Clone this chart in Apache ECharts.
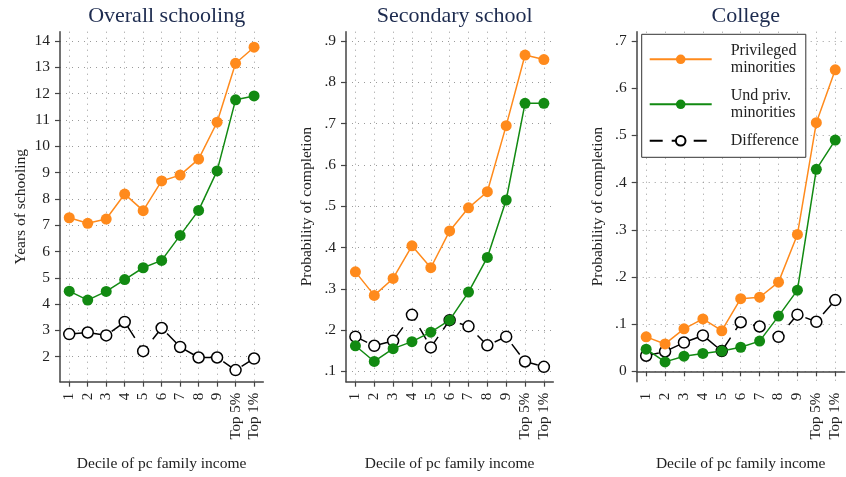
<!DOCTYPE html>
<html><head><meta charset="utf-8">
<script src="https://cdn.jsdelivr.net/npm/echarts@6/dist/echarts.min.js"></script>
<style>html,body{margin:0;padding:0;background:#fff}#c{width:846px;height:477px}</style>
</head><body><div id="c"></div>
<script>
const categories = ['1','2','3','4','5','6','7','8','9','Top 5%','Top 1%'];
const schoolPriv = [7.28,7.07,7.23,8.18,7.55,8.68,8.90,9.51,10.91,13.15,13.76];
const schoolUnd  = [4.49,4.15,4.48,4.93,5.38,5.66,6.61,7.56,9.06,11.76,11.91];
const schoolDiff = [2.86,2.92,2.81,3.32,2.21,3.09,2.37,1.97,1.97,1.49,1.93];
const secPriv = [0.341,0.284,0.325,0.404,0.351,0.440,0.496,0.535,0.695,0.866,0.855];
const secUnd  = [0.162,0.124,0.155,0.172,0.195,0.224,0.292,0.376,0.515,0.749,0.749];
const secDiff = [0.184,0.162,0.174,0.237,0.158,0.224,0.209,0.163,0.184,0.124,0.111];
const colPriv = [0.073,0.058,0.090,0.111,0.086,0.154,0.157,0.189,0.290,0.527,0.639];
const colUnd  = [0.047,0.020,0.032,0.038,0.043,0.051,0.064,0.117,0.172,0.428,0.490];
const colDiff = [0.033,0.042,0.061,0.076,0.043,0.104,0.095,0.073,0.120,0.105,0.151];
const schoolTicks = [2,3,4,5,6,7,8,9,10,11,12,13,14];
const secTicks = [0.1,0.2,0.3,0.4,0.5,0.6,0.7,0.8,0.9];
const colTicks = [0,0.1,0.2,0.3,0.4,0.5,0.6,0.7];
const titles = ['Overall schooling','Secondary school','College'];
const yNames = ['Years of schooling','Probability of completion','Probability of completion'];
const xName = 'Decile of pc family income';
const seriesNames = ['Privileged\nminorities','Und priv.\nminorities','Difference'];

const FONT = '"Liberation Serif","DejaVu Serif",serif';
const ORANGE = '#ff8a1c', GREEN = '#128a12';
const catIdx = categories.map((c,i)=>i+1);
const fmtDec = v => { const r = Math.round(v*10)/10; return r===0 ? '0' : r.toFixed(1).replace(/^0/,''); };

const panels = [
  {left:60, width:203.3, min:1.05, max:14.35, ticks:schoolTicks, fmt:v=>String(Math.round(v)), data:[schoolPriv,schoolUnd,schoolDiff]},
  {left:346, width:207.3, min:0.075, max:0.9225, ticks:secTicks, fmt:fmtDec, data:[secPriv,secUnd,secDiff]},
  {left:636.7, width:208, min:-0.022, max:0.7197, ticks:colTicks, fmt:fmtDec, data:[colPriv,colUnd,colDiff]}
];

const grid=[], xAxis=[], yAxis=[], series=[], title=[];
const axisLine = {show:true, lineStyle:{color:'#444', width:1.5}};
const gridLine = {show:true, lineStyle:{color:'#9a9a9a', width:1, type:[1,5]}};
panels.forEach((p,i)=>{
  grid.push({left:p.left, top:31.7, width:p.width, height:350, containLabel:false});
  title.push({text:titles[i], left:p.left+p.width/2, top:0, textAlign:'center',
    textStyle:{fontFamily:FONT, fontSize:22, fontWeight:'normal', color:'#1d2b4f'}});
  xAxis.push({type:'value', gridIndex:i, min:0.5, max:11.5,
    axisLine:axisLine,
    axisTick:{show:true, inside:false, length:5, lineStyle:{color:'#444', width:1.2}, customValues:catIdx},
    axisLabel:{customValues:catIdx, rotate:90, margin:11, fontFamily:FONT, fontSize:15, color:'#222',
      formatter:v=>categories[Math.round(v)-1] || ''},
    splitLine:gridLine,
    name:xName, nameLocation:'middle', nameGap:74,
    nameTextStyle:{fontFamily:FONT, fontSize:15.5, color:'#222'}});
  yAxis.push({type:'value', gridIndex:i, min:p.min, max:p.max,
    axisLine:axisLine,
    axisTick:{show:true, length:5, lineStyle:{color:'#444', width:1.2}, customValues:p.ticks},
    axisLabel:{customValues:p.ticks, margin:10, fontFamily:FONT, fontSize:15.5, color:'#222', formatter:p.fmt},
    splitLine:gridLine,
    name:yNames[i], nameLocation:'middle', nameGap:31, nameRotate:90,
    nameTextStyle:{fontFamily:FONT, fontSize:15.5, color:'#222'}});
  const pts = arr => arr.map((v,k)=>[catIdx[k], v]);
  series.push({name:seriesNames[2], type:'line', xAxisIndex:i, yAxisIndex:i, data:pts(p.data[2]),
    symbol:'circle', symbolSize:11, z:2,
    itemStyle:{color:'#fff', borderColor:'#000', borderWidth:1.5},
    lineStyle:{color:'#000', width:1.5, type:[13,9]}, animation:false});
  series.push({name:seriesNames[0], type:'line', xAxisIndex:i, yAxisIndex:i, data:pts(p.data[0]),
    symbol:'circle', symbolSize:11, z:3,
    itemStyle:{color:ORANGE}, lineStyle:{color:ORANGE, width:1.5}, animation:false});
  series.push({name:seriesNames[1], type:'line', xAxisIndex:i, yAxisIndex:i, data:pts(p.data[1]),
    symbol:'circle', symbolSize:11, z:4,
    itemStyle:{color:GREEN}, lineStyle:{color:GREEN, width:1.5}, animation:false});
});

const chart = echarts.init(document.getElementById('c'), null, {renderer:'canvas'});
chart.setOption({
  animation:false,
  backgroundColor:'#fff',
  title:title, grid:grid, xAxis:xAxis, yAxis:yAxis, series:series,
  legend:{data:seriesNames, orient:'vertical', left:641.7, top:34.3, z:10,
    backgroundColor:'#fff', borderColor:'#333', borderWidth:1, borderRadius:0,
    padding:[8,7,8,7], itemWidth:62, itemHeight:12, itemGap:11,
    selectedMode:false,
    textStyle:{fontFamily:FONT, fontSize:16, lineHeight:17, color:'#222', padding:[0,0,0,14]}}
});
</script></body></html>
